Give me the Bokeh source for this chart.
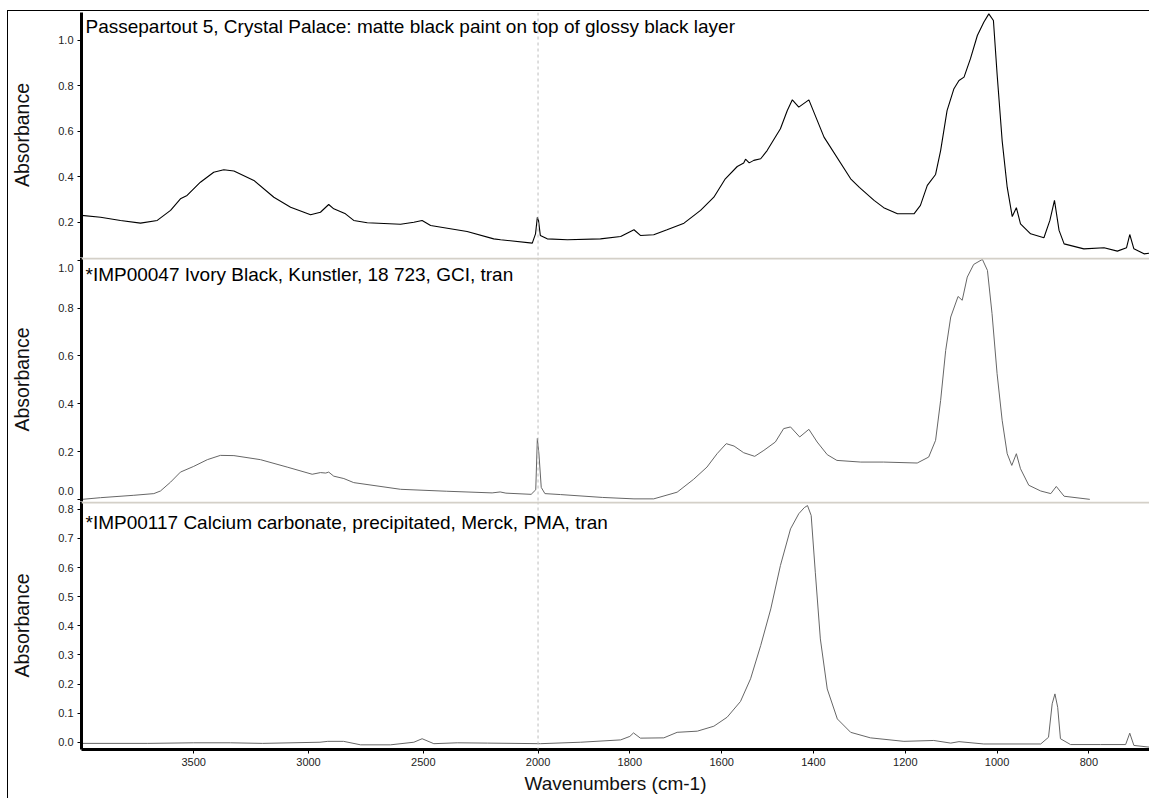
import numpy as np
from bokeh.plotting import figure
from bokeh.models import Range1d, FixedTicker, Span, Label, NumeralTickFormatter
from bokeh.layouts import column
from bokeh.embed import file_html
from bokeh.resources import INLINE

# ---------------- data ----------------
TITLES = [
    "Passepartout 5, Crystal Palace: matte black paint on top of glossy black layer",
    "*IMP00047 Ivory Black, Kunstler, 18 723, GCI, tran",
    "*IMP00117 Calcium carbonate, precipitated, Merck, PMA, tran",
]
X_LABEL = "Wavenumbers (cm-1)"
Y_LABEL = "Absorbance"
X_TICKS = [3500, 3000, 2500, 2000, 1800, 1600, 1400, 1200, 1000, 800]
Y1_TICKS = [0.2, 0.4, 0.6, 0.8, 1.0]
Y2_TICKS = [0.0, 0.2, 0.4, 0.6, 0.8, 1.0]
Y3_TICKS = [0.0, 0.1, 0.2, 0.3, 0.4, 0.5, 0.6, 0.7, 0.8]

S1_WN = [3989, 3906, 3819, 3732, 3659, 3601, 3558, 3529, 3471, 3413, 3369, 3325,
         3238, 3151, 3078, 2991, 2948, 2912, 2890, 2839, 2803, 2744, 2599, 2541,
         2505, 2468, 2309, 2193, 2163, 2025, 2011, 2003, 1999, 1995, 1980, 1936,
         1864, 1820, 1791, 1777, 1748, 1719, 1682, 1646, 1617, 1592, 1566, 1552,
         1548, 1540, 1530, 1515, 1501, 1472, 1457, 1446, 1432, 1410, 1377, 1319,
         1300, 1268, 1247, 1217, 1181, 1167, 1152, 1134, 1123, 1109, 1094, 1083,
         1072, 1058, 1043, 1029, 1018, 1008, 1000, 989, 978, 967, 958, 949, 927,
         898, 885, 875, 865, 854, 811, 767, 738, 718, 711, 702, 680, 668]
S1_ABS = [0.231, 0.223, 0.209, 0.197, 0.209, 0.253, 0.304, 0.319, 0.377, 0.421, 0.432, 0.426,
          0.385, 0.311, 0.267, 0.234, 0.245, 0.279, 0.260, 0.238, 0.209, 0.199, 0.192, 0.201,
          0.209, 0.187, 0.160, 0.128, 0.124, 0.109, 0.150, 0.223, 0.209, 0.143, 0.128, 0.124,
          0.128, 0.138, 0.168, 0.143, 0.146, 0.168, 0.197, 0.253, 0.311, 0.392, 0.446, 0.461,
          0.478, 0.462, 0.473, 0.480, 0.516, 0.612, 0.692, 0.739, 0.707, 0.739, 0.575, 0.392,
          0.354, 0.297, 0.265, 0.238, 0.238, 0.275, 0.363, 0.411, 0.516, 0.692, 0.788, 0.824,
          0.839, 0.920, 1.022, 1.080, 1.117, 1.088, 0.853, 0.560, 0.355, 0.226, 0.265, 0.194, 0.150,
          0.133, 0.209, 0.297, 0.165, 0.106, 0.084, 0.089, 0.074, 0.089, 0.147, 0.084, 0.062, 0.065]

S2_WN = [3986, 3906, 3761, 3674, 3645, 3601, 3558, 3500, 3441, 3384, 3325, 3209,
         3093, 2984, 2948, 2925, 2912, 2890, 2846, 2803, 2599, 2400, 2200, 2165,
         2140, 2030, 2010, 2003, 1998, 1993, 1985, 1951, 1860, 1791, 1748, 1697,
         1661, 1632, 1610, 1590, 1573, 1552, 1528, 1508, 1483, 1465, 1450, 1430,
         1410, 1392, 1370, 1349, 1297, 1247, 1174, 1149, 1134, 1123, 1112, 1101,
         1085, 1076, 1065, 1051, 1032, 1021, 1011, 1000, 989, 978, 968, 958, 949,
         931, 905, 883, 871, 854, 798]
S2_ABS = [0.000, 0.007, 0.017, 0.024, 0.035, 0.072, 0.114, 0.138, 0.166, 0.184, 0.183, 0.166,
          0.135, 0.105, 0.112, 0.110, 0.114, 0.097, 0.087, 0.070, 0.042, 0.034, 0.027, 0.031,
          0.026, 0.021, 0.040, 0.255, 0.190, 0.050, 0.024, 0.020, 0.008, 0.002, 0.002, 0.030,
          0.084, 0.135, 0.191, 0.233, 0.223, 0.195, 0.180, 0.205, 0.240, 0.296, 0.303, 0.261,
          0.293, 0.240, 0.187, 0.163, 0.156, 0.156, 0.152, 0.177, 0.247, 0.414, 0.623, 0.763,
          0.849, 0.833, 0.930, 0.983, 1.004, 0.958, 0.777, 0.526, 0.331, 0.191, 0.142, 0.191, 0.128,
          0.059, 0.035, 0.024, 0.054, 0.013, 0.000]

S3_WN = [3989, 3700, 3500, 3340, 3200, 2950, 2916, 2847, 2773, 2643, 2541, 2505,
         2454, 2352, 2221, 1995, 1907, 1820, 1800, 1792, 1777, 1726, 1697, 1653,
         1617, 1588, 1559, 1537, 1515, 1493, 1472, 1450, 1432, 1420, 1413, 1405, 1396,
         1385, 1370, 1348, 1319, 1276, 1203, 1138, 1101, 1083, 1029, 905, 888,
         880, 874, 868, 862, 840, 775, 720, 711, 702, 668]
S3_ABS = [-0.004, -0.004, -0.002, -0.002, -0.004, 0.000, 0.003, 0.003, -0.009, -0.009, 0.000, 0.012,
          -0.005, -0.002, -0.003, -0.005, 0.000, 0.008, 0.020, 0.032, 0.014, 0.015, 0.034, 0.038,
          0.055, 0.086, 0.140, 0.218, 0.332, 0.458, 0.607, 0.733, 0.785, 0.806, 0.813, 0.779, 0.584,
          0.355, 0.183, 0.080, 0.034, 0.015, 0.003, 0.006, -0.003, 0.002, -0.006, -0.006, 0.017,
          0.132, 0.166, 0.120, 0.012, -0.008, -0.008, -0.008, 0.031, -0.011, -0.017]

# ---------------- split wavenumber scale (2x expansion below 2000) ----------------
SPLIT = 2000.0


def to_u(w):
    w = np.asarray(w, dtype=float)
    return np.where(w >= SPLIT, SPLIT - w, 2.0 * (SPLIT - w))


FONT = "Liberation Sans"
W = 1141
BIG = "19px"
x_range = Range1d(float(to_u(3989)), float(to_u(668)))


def style_yaxis(ya, ticks):
    ya.ticker = FixedTicker(ticks=ticks, minor_ticks=[])
    ya.formatter = NumeralTickFormatter(format="0.0")
    ya.axis_line_width = 3
    ya.axis_line_color = "black"
    ya.major_tick_out = 4
    ya.major_tick_in = 0
    ya.minor_tick_out = 0
    ya.minor_tick_in = 0
    ya.major_tick_line_color = "black"
    ya.major_label_text_font = FONT
    ya.major_label_text_font_size = "11px"
    ya.major_label_text_color = "#222222"
    ya.major_label_standoff = 4
    ya.axis_label = Y_LABEL
    ya.axis_label_text_font = FONT
    ya.axis_label_text_font_size = "19.5px"
    ya.axis_label_text_font_style = "normal"
    ya.axis_label_text_color = "#111111"
    ya.axis_label_standoff = 22


def panel(height, y0, y1, yticks, wn, ab, color, lw, title, title_dy,
          top=0, bottom=0, xaxis=False, sep=None, edge_labels=None):
    p = figure(width=W, height=height, x_range=x_range, y_range=Range1d(y0, y1),
               output_backend="svg", toolbar_location=None,
               x_axis_location="below" if xaxis else None,
               min_border_left=73, min_border_right=0,
               min_border_top=top, min_border_bottom=bottom)
    p.grid.visible = False
    p.outline_line_color = None
    p.background_fill_color = "white"
    p.border_fill_color = "white"

    ya = p.yaxis[0]
    style_yaxis(ya, yticks)
    if edge_labels:
        # labels of ticks lying on a panel edge are nudged into the panel
        ya.major_label_overrides = dict(edge_labels)
        ya.major_label_text_line_height = 0.35

    if xaxis:
        xa = p.xaxis[0]
        ticks_u = [float(v) for v in to_u(X_TICKS)]
        xa.ticker = FixedTicker(ticks=ticks_u, minor_ticks=[])
        xa.major_label_overrides = {u: str(w) for u, w in zip(ticks_u, X_TICKS)}
        xa.axis_line_width = 3
        xa.axis_line_color = "black"
        xa.major_tick_out = 4
        xa.major_tick_in = 0
        xa.minor_tick_out = 0
        xa.minor_tick_in = 0
        xa.major_label_text_font = FONT
        xa.major_label_text_font_size = "11px"
        xa.major_label_text_color = "#222222"
        xa.major_label_standoff = 4
        xa.axis_label = X_LABEL
        xa.axis_label_text_font = FONT
        xa.axis_label_text_font_size = BIG
        xa.axis_label_text_font_style = "normal"
        xa.axis_label_text_color = "#111111"
        xa.axis_label_standoff = 4

    p.add_layout(Span(location=float(to_u(2000)), dimension="height",
                      line_color="#bdbdbd", line_dash="3 3", line_width=1))
    if sep is not None:
        p.add_layout(Span(location=sep, dimension="width",
                          line_color="#d4d0c8", line_width=2))

    p.line(to_u(wn), ab, line_color=color, line_width=lw)
    p.add_layout(Label(x=x_range.start, y=y1, x_offset=4, y_offset=title_dy,
                       text=title, text_baseline="top", text_font=FONT,
                       text_font_size=BIG, text_color="black"))
    return p


p1 = panel(246, 0.046, 1.123, Y1_TICKS, S1_WN, S1_ABS, "#000000", 1.1,
           TITLES[0], -3, top=1)
p2 = panel(244, -0.009, 1.012, Y2_TICKS, S2_WN, S2_ABS, "#666666", 1.0,
           TITLES[1], -6, sep=1.012 - 1.0 / 239,
           edge_labels=[(0.0, "0.0\n"), (1.0, "\n1.0")])
p3 = panel(297, -0.025, 0.827, Y3_TICKS, S3_WN, S3_ABS, "#666666", 1.0,
           TITLES[2], -10, bottom=49, xaxis=True, sep=0.827 - 1.0 / 291)

layout = column(p1, p2, p3, spacing=0,
                styles={"border-left": "1px solid black",
                        "border-top": "1px solid black",
                        "margin-left": "7px",
                        "margin-top": "10px"})

open("out.html", "w").write(file_html(layout, INLINE))
